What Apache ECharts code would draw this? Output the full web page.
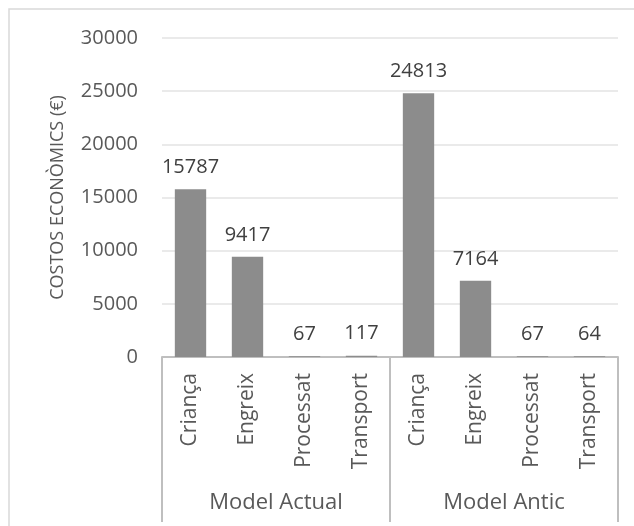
<!DOCTYPE html>
<html>
<head>
<meta charset="utf-8">
<script src="https://cdn.jsdelivr.net/npm/echarts@6/dist/echarts.min.js"></script>
<style>
  html, body { margin: 0; padding: 0; background: #fff; }
  #chart { width: 634px; height: 526px; }
</style>
</head>
<body>
<div id="chart"></div>
<script>
// Cost components for each production model
const groups = ['Model Actual', 'Model Antic'];
const stages = ['Criança', 'Engreix', 'Processat', 'Transport'];
const modelActual = [15787, 9417, 67, 117];
const modelAntic = [24813, 7164, 67, 64];
const yTicks = { min: 0, max: 30000, interval: 5000 };

const categories = [];
groups.forEach(() => stages.forEach(s => categories.push(s)));
const values = modelActual.concat(modelAntic);

const FONT = '"Open Sans", sans-serif';

const chart = echarts.init(document.getElementById('chart'), null, { renderer: 'canvas' });
chart.setOption({
  animation: false,
  backgroundColor: '#ffffff',
  textStyle: { fontFamily: FONT },
  graphic: [{
    type: 'rect',
    shape: { x: 9, y: 9, width: 700, height: 600 },
    style: { fill: 'none', stroke: '#d9d9d9', lineWidth: 1.5 },
    silent: true,
    z: -10
  }],
  grid: { left: 162, right: 16, top: 38, bottom: 169, containLabel: false },
  xAxis: [{
    type: 'category',
    data: categories,
    position: 'bottom',
    axisLine: { show: true, lineStyle: { color: '#bfbfbf', width: 2 } },
    axisTick: { show: false },
    axisLabel: {
      interval: 0,
      rotate: 90,
      margin: 16,
      color: '#595959',
      fontSize: 21,
      fontFamily: FONT
    }
  }, {
    type: 'category',
    data: groups,
    position: 'bottom',
    axisLine: { show: false },
    axisTick: {
      show: true,
      interval: 0,
      length: 165,
      lineStyle: { color: '#bfbfbf', width: 2 }
    },
    axisLabel: {
      interval: 0,
      margin: 135,
      color: '#595959',
      fontSize: 22,
      fontFamily: FONT
    }
  }],
  yAxis: {
    type: 'value',
    min: yTicks.min,
    max: yTicks.max,
    interval: yTicks.interval,
    name: 'COSTOS ECONÒMICS (€)',
    nameLocation: 'middle',
    nameGap: 95,
    nameTextStyle: { color: '#595959', fontSize: 18, fontFamily: FONT },
    axisLine: { show: false },
    axisTick: { show: false },
    axisLabel: {
      margin: 24,
      color: '#595959',
      fontSize: 20,
      fontFamily: FONT,
      formatter: v => String(v)
    },
    splitLine: { lineStyle: { color: '#e3e3e3', width: 1.5 } }
  },
  series: [{
    type: 'bar',
    xAxisIndex: 0,
    data: values,
    barCategoryGap: '45%',
    itemStyle: { color: '#8c8c8c' },
    label: {
      show: true,
      position: 'top',
      distance: 12,
      color: '#404040',
      fontSize: 20,
      fontFamily: FONT
    }
  }]
});
</script>
</body>
</html>
